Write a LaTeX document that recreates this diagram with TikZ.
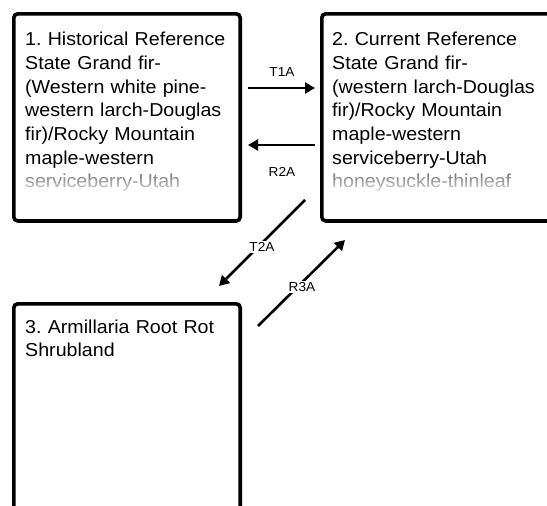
\documentclass[tikz,border=0pt]{standalone}
\usepackage{fontspec}
\setmainfont{Liberation Sans}[FakeStretch=1.05]
\usetikzlibrary{arrows.meta,fadings}
\tikzfading[name=fadedown, top color=transparent!100, bottom color=transparent!12]
\begin{document}
\frenchspacing
\begin{tikzpicture}[x=1pt,y=-1pt,
  statebox/.style={draw=black,line width=3.6pt,rounded corners=4pt,fill=white},
  boxtext/.style={anchor=base west,inner sep=0pt,text width=215pt,align=left,
    font=\fontsize{18.7}{23.7}\selectfont\frenchspacing},
  arr/.style={line width=2.6pt,-{Triangle[length=10pt,width=11pt]}},
  lab/.style={font=\fontsize{13}{15}\selectfont,inner sep=1.5pt},
  veil/.style={fill=white,path fading=fadedown}]
\useasboundingbox (0,0) rectangle (547,506);
\clip (0,0) rectangle (547,506);
% boxes
\draw[statebox] (13.8,13.8) rectangle (240.2,221) coordinate[pos=0.5] (b1);
\draw[statebox] (321.8,13.8) rectangle (560,221) coordinate[pos=0.5] (b2);
\draw[statebox] (13.8,303.8) rectangle (240.2,540) coordinate[pos=0.5] (b3);
% texts
\node[boxtext] (t1) at (25,45.7) {1. Historical Reference\\State Grand fir-\\(Western white pine-\\western larch-Douglas\\fir)/Rocky Mountain\\maple-western\\{\color{black!55}serviceberry-Utah}};
\node[boxtext] (t2) at (332,45.7) {2. Current Reference\\State Grand fir-\\(western larch-Douglas\\fir)/Rocky Mountain\\maple-western\\serviceberry-Utah\\{\color{black!55}honeysuckle-thinleaf}};
\node[boxtext] (t3) at (25,333) {3. Armillaria Root Rot\\Shrubland};
% fading of the last visible lines
\fill[veil] (20,173) rectangle (236,196);
\fill[veil] (328,173) rectangle (540,196);
% connector end points
\coordinate (a1s) at (248,88);  \coordinate (a1e) at (315,88);
\coordinate (a2s) at (315,145); \coordinate (a2e) at (248,145);
\coordinate (a3s) at (305,200); \coordinate (a3e) at (219,286);
\coordinate (a4s) at (258,326); \coordinate (a4e) at (345,240);
% arrows
\draw[arr] (a1s) -- (a1e);
\node[lab] (l1) at (282,72) {T1A};
\draw[arr] (a2s) -- (a2e);
\node[lab] (l2) at (282,172) {R2A};
\draw[arr] (a3s) -- (a3e);
\node[lab,fill=white] (l3) at (262,247) {T2A};
\draw[arr] (a4s) -- (a4e);
\node[lab,fill=white] (l4) at (302,287) {R3A};
\end{tikzpicture}
\end{document}
